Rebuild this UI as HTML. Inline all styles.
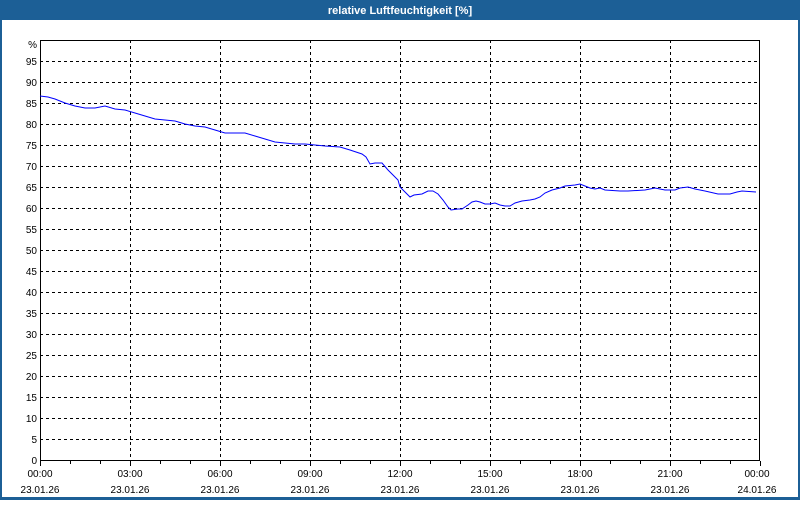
<!DOCTYPE html>
<html><head><meta charset="utf-8"><style>
body{margin:0;width:800px;height:500px;overflow:hidden;font-family:"Liberation Sans",sans-serif}
</style></head><body>
<svg width="800" height="500" xmlns="http://www.w3.org/2000/svg" font-family="Liberation Sans, sans-serif" font-size="10">
<rect x="0" y="0" width="800" height="500" fill="#1c5f96"/>
<rect x="2" y="20" width="796" height="477" fill="#fff"/>
<text x="400" y="14" fill="#fff" font-weight="bold" font-size="11" text-anchor="middle">relative Luftfeuchtigkeit [%]</text>
<g stroke="#000" stroke-dasharray="3,3" stroke-width="1">
<path d="M40 439.5H760M40 418.5H760M40 397.5H760M40 376.5H760M40 355.5H760M40 334.5H760M40 313.5H760M40 292.5H760M40 271.5H760M40 250.5H760M40 229.5H760M40 208.5H760M40 187.5H760M40 166.5H760M40 145.5H760M40 124.5H760M40 103.5H760M40 82.5H760M40 61.5H760"/>
<path d="M130.5 40V460M220.5 40V460M310.5 40V460M400.5 40V460M490.5 40V460M580.5 40V460M670.5 40V460"/>
</g>
<rect x="40.5" y="40.5" width="719" height="420" fill="none" stroke="#000"/>
<g stroke="#000"><path d="M40.5 461V466M70.5 461V464M100.5 461V464M130.5 461V466M160.5 461V464M190.5 461V464M220.5 461V466M250.5 461V464M280.5 461V464M310.5 461V466M340.5 461V464M370.5 461V464M400.5 461V466M430.5 461V464M460.5 461V464M490.5 461V466M520.5 461V464M550.5 461V464M580.5 461V466M610.5 461V464M640.5 461V464M670.5 461V466M700.5 461V464M730.5 461V464M760.5 461V466"/></g>
<polyline fill="none" stroke="#0000ff" stroke-width="1" points="40,96 48,97 55,99 65,103 75,106 85,108 95,108 105,106 115,109 125,110 135,113 145,116 155,119 165,120 175,121 185,124 195,126 205,127 215,130 225,133 235,133 245,133 255,136 265,139 275,142 285,143 295,144 305,144 315,145 325,146 340,147 350,150 362,154 366,157 370,164 375,163 382,163 388,170 393,175 398,180 400,187 405,192 410,197 414,195 422,194 428,191 433,191 438,194 443,200 448,207 451,210 458,209 462,209 468,205 472,202 476,201 480,202 485,204 490,204 495,203 500,205 505,206 510,206 515,203 522,201 530,200 535,199 540,197 545,193 552,190 560,188 565,186 575,185 580,184 585,186 590,188 595,189 600,188 605,190 620,191 628,191 645,190 655,188 665,190 675,190 680,188 688,187 695,189 705,191 718,194 730,194 737,192 742,191 756,192"/>
<g fill="#000" text-anchor="end">
<text x="37" y="48">%</text>
<text x="37" y="65">95</text><text x="37" y="86">90</text><text x="37" y="107">85</text><text x="37" y="128">80</text><text x="37" y="149">75</text><text x="37" y="170">70</text><text x="37" y="191">65</text><text x="37" y="212">60</text><text x="37" y="233">55</text><text x="37" y="254">50</text><text x="37" y="275">45</text><text x="37" y="296">40</text><text x="37" y="317">35</text><text x="37" y="338">30</text><text x="37" y="359">25</text><text x="37" y="380">20</text><text x="37" y="401">15</text><text x="37" y="422">10</text><text x="37" y="443">5</text><text x="37" y="464">0</text>
</g>
<g fill="#000" text-anchor="middle">
<text x="40" y="477">00:00</text><text x="40" y="493">23.01.26</text>
<text x="130" y="477">03:00</text><text x="130" y="493">23.01.26</text>
<text x="220" y="477">06:00</text><text x="220" y="493">23.01.26</text>
<text x="310" y="477">09:00</text><text x="310" y="493">23.01.26</text>
<text x="400" y="477">12:00</text><text x="400" y="493">23.01.26</text>
<text x="490" y="477">15:00</text><text x="490" y="493">23.01.26</text>
<text x="580" y="477">18:00</text><text x="580" y="493">23.01.26</text>
<text x="670" y="477">21:00</text><text x="670" y="493">23.01.26</text>
<text x="757" y="477">00:00</text><text x="757" y="493">24.01.26</text>
</g>
</svg>
</body></html>
